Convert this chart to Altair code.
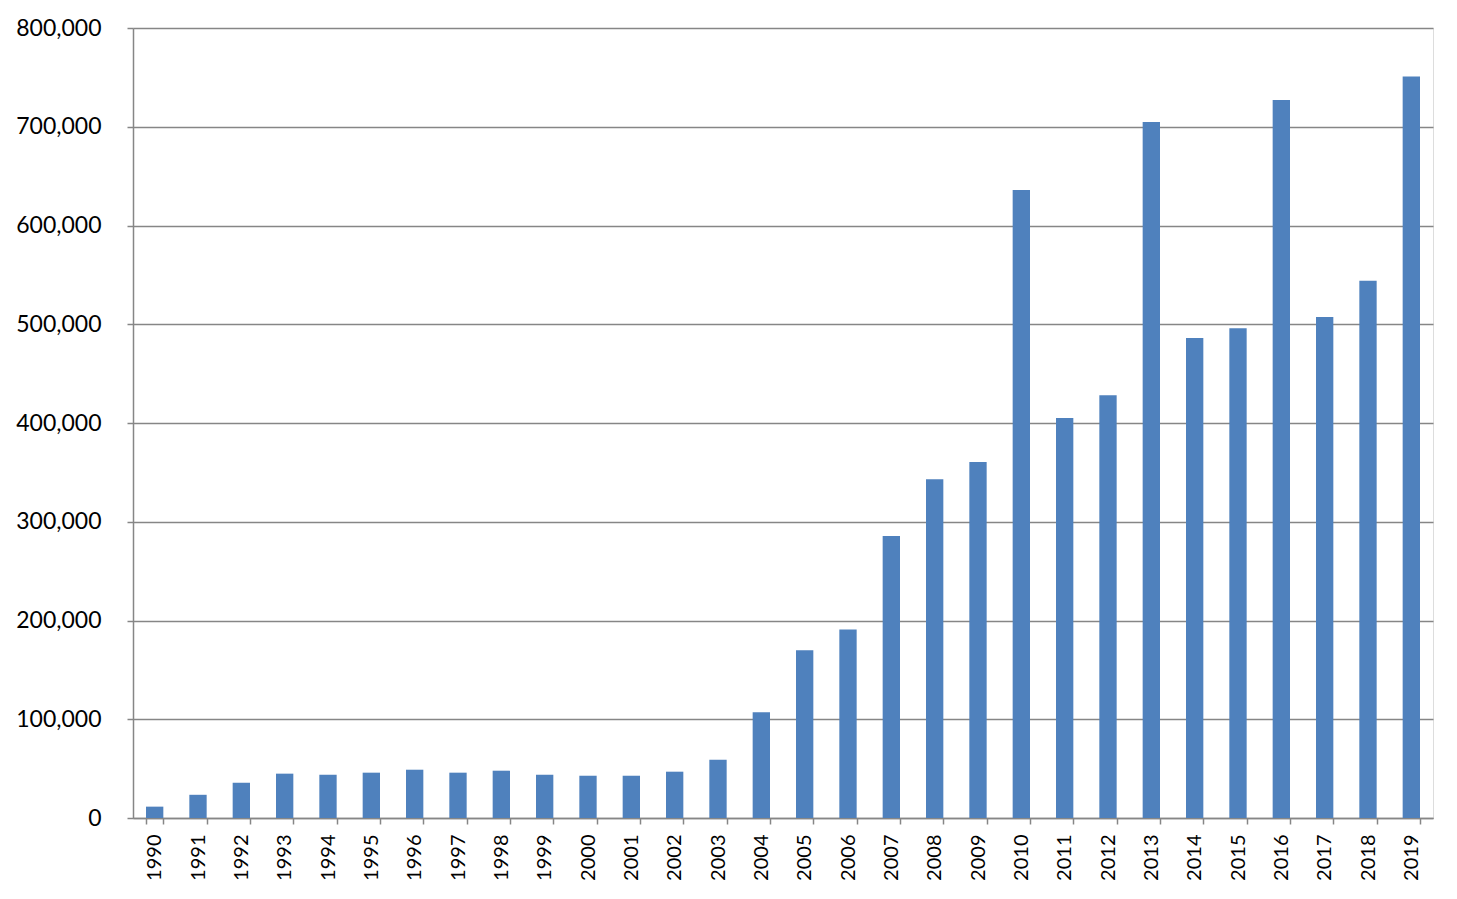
import altair as alt
import pandas as pd

years = [str(y) for y in range(1990, 2020)]
values = [11500, 23500, 35700, 44900, 43800, 45900, 48900, 45900, 47900, 43800,
          42800, 42800, 46900, 59000, 107000, 170000, 191000, 285600, 343000, 360500,
          636000, 405000, 428000, 704800, 486000, 496000, 727000, 507400, 544000, 751000]

df = pd.DataFrame({"year": years, "value": values})

font = "Lato"
grid_color = "#868686"

chart = alt.Chart(df).mark_bar(color="#4F81BD").encode(
    x=alt.X("year:N", sort=years,
            scale=alt.Scale(paddingInner=0.6, paddingOuter=0.3),
            axis=alt.Axis(title=None, labelAngle=270, labelFontSize=20, labelFont=font,
                          labelColor="#000000", domainColor=grid_color, domainWidth=1.5,
                          tickColor=grid_color, tickWidth=1.5, tickSize=6, tickBand="extent",
                          labelPadding=10, labelAlign="right", labelBaseline="middle",
                          grid=False)),
    y=alt.Y("value:Q",
            scale=alt.Scale(domain=[0, 800000], nice=False),
            axis=alt.Axis(title=None, values=list(range(0, 800001, 100000)), format=",d",
                          labelFontSize=23, labelFont=font, labelColor="#000000",
                          labelPadding=26, domainColor=grid_color, domainWidth=1.5,
                          tickColor=grid_color, tickWidth=1.5, tickSize=6,
                          grid=True, gridColor=grid_color, gridWidth=1.5)),
).properties(
    width=1300, height=790,
    autosize=alt.AutoSizeParams(type="none"),
    padding={"left": 125, "top": 20, "right": 10, "bottom": 70},
).configure_view(stroke=None).configure(background="white")

chart.save("out.html", embed_options={"renderer": "svg", "actions": False})
